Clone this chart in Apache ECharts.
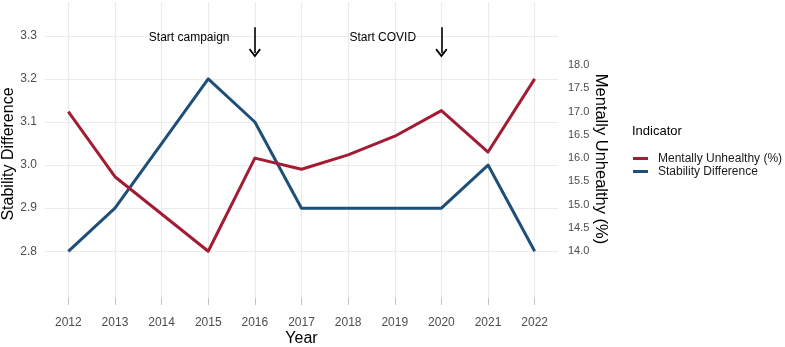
<!DOCTYPE html>
<html>
<head>
<meta charset="utf-8">
<script src="https://cdn.jsdelivr.net/npm/echarts@6/dist/echarts.min.js"></script>
<style>html,body{margin:0;padding:0;background:#fff}#c{width:785px;height:347px}</style>
</head>
<body>
<div id="c"></div>
<script>
const years = [2012, 2013, 2014, 2015, 2016, 2017, 2018, 2019, 2020, 2021, 2022];
const stabilityDifference = [2.8, 2.9, 3.05, 3.2, 3.1, 2.9, 2.9, 2.9, 2.9, 3.0, 2.8];
const mentallyUnhealthy = [17.0, 15.6, 14.8, 14.0, 16.0, 15.76, 16.07, 16.47, 17.02, 16.13, 17.7];
const leftTicks = [2.8, 2.9, 3.0, 3.1, 3.2, 3.3];
const rightTicks = [14.0, 14.5, 15.0, 15.5, 16.0, 16.5, 17.0, 17.5, 18.0];
const annotations = [
  {text: 'Start campaign', year: 2016},
  {text: 'Start COVID', year: 2020}
];

// secondary axis transform: 14.0..17.7 <-> 2.8..3.2
const k = 0.4 / 3.7;
const toMU = s => 14 + (s - 2.8) / k;
const leftMin = 2.6916, leftMax = 3.3784;

const FONT = 'Liberation Sans';
const red = '#A21C33', blue = '#1F4E79';

const chart = echarts.init(document.getElementById('c'), null, {renderer: 'canvas'});
chart.setOption({
  animation: false,
  textStyle: {fontFamily: FONT},
  grid: {left: 45, right: 227, top: 2, bottom: 49, containLabel: false, outerBoundsMode: 'none'},
  xAxis: {
    type: 'value', min: 2011.5, max: 2022.5,
    name: 'Year', nameLocation: 'middle', nameGap: 33, nameMoveOverlap: false,
    nameTextStyle: {fontSize: 16, color: '#000', fontFamily: FONT},
    axisLine: {show: false},
    axisTick: {show: true, length: 7, lineStyle: {color: '#c4c4c4', width: 1}, customValues: years},
    axisLabel: {customValues: years, margin: 19, fontSize: 12, color: '#4D4D4D', fontFamily: FONT, formatter: v => String(v)},
    splitLine: {show: true, lineStyle: {color: '#EBEBEB', width: 1.1}}
  },
  yAxis: [{
    type: 'value', min: leftMin, max: leftMax, position: 'left',
    name: 'Stability Difference', nameLocation: 'middle', nameGap: 28, nameRotate: 90, nameMoveOverlap: false,
    nameTextStyle: {fontSize: 16, color: '#000', fontFamily: FONT, padding: [0, 8, 0, 0]},
    axisLine: {show: false},
    axisTick: {show: false, customValues: leftTicks},
    axisLabel: {customValues: leftTicks, margin: 8, fontSize: 12, color: '#4D4D4D', fontFamily: FONT, formatter: v => v.toFixed(1)},
    splitLine: {show: true, lineStyle: {color: '#EBEBEB', width: 1.1}}
  }, {
    type: 'value', min: toMU(leftMin), max: toMU(leftMax), position: 'right',
    name: 'Mentally Unhealthy (%)', nameLocation: 'middle', nameGap: 34, nameRotate: -90, nameMoveOverlap: false,
    nameTextStyle: {fontSize: 16.5, color: '#000', fontFamily: FONT, padding: [0, 0, 0, 18]},
    axisLine: {show: false},
    axisTick: {show: false, customValues: rightTicks},
    axisLabel: {customValues: rightTicks, margin: 10, fontSize: 11, color: '#4D4D4D', fontFamily: FONT, formatter: v => v.toFixed(1)},
    splitLine: {show: false}
  }],
  legend: {
    orient: 'vertical', left: 633, top: 152, padding: 0, itemGap: 0,
    icon: 'rect', itemWidth: 15, itemHeight: 3,
    data: ['Mentally Unhealthy (%)', 'Stability Difference'],
    textStyle: {fontSize: 12, color: '#1a1a1a', fontFamily: FONT, lineHeight: 13, padding: [0, 0, 0, 5]}
  },
  graphic: [{
    type: 'text', left: 632, top: 125,
    style: {text: 'Indicator', font: '13px "Liberation Sans"', fill: '#000'}
  }],
  series: [{
    name: 'Stability Difference', type: 'line', yAxisIndex: 0,
    data: years.map((y, i) => [y, stabilityDifference[i]]),
    showSymbol: false, symbol: 'none',
    lineStyle: {color: blue, width: 3, join: 'round'}, itemStyle: {color: blue},
    markLine: {
      silent: true, symbol: ['none', 'path://M5 0 L10 6.2 L8.9 7.2 L5 2.4 L1.1 7.2 L0 6.2 Z'],
      symbolSize: [12, 9],
      lineStyle: {color: '#000', width: 1.6, type: 'solid'},
      label: {show: false},
      data: annotations.map(a => [{coord: [a.year, 3.32]}, {coord: [a.year, 3.26]}])
    },
    markPoint: {
      silent: true, symbol: 'circle', symbolSize: 0,
      label: {show: true, position: 'left', distance: 2, offset: [0, 2], color: '#000', fontSize: 12, fontFamily: FONT,
        formatter: p => p.name},
      data: annotations.map(a => ({name: a.text, coord: [a.year - 0.5, 3.3]}))
    }
  }, {
    name: 'Mentally Unhealthy (%)', type: 'line', yAxisIndex: 1,
    data: years.map((y, i) => [y, mentallyUnhealthy[i]]),
    showSymbol: false, symbol: 'none',
    lineStyle: {color: red, width: 3, join: 'round'}, itemStyle: {color: red}
  }]
});
</script>
</body>
</html>
